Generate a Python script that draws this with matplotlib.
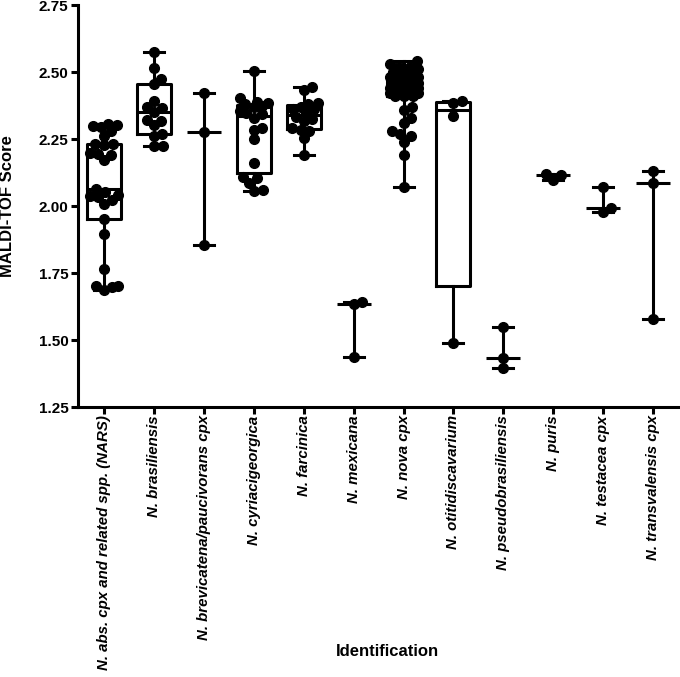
import matplotlib
matplotlib.use("Agg")
import matplotlib.pyplot as plt
import numpy as np

plt.rcParams["font.family"] = ["Liberation Sans", "DejaVu Sans"]
plt.rcParams["font.weight"] = "bold"

species = [
    "N. abs. cpx and related spp. (NARS)",
    "N. brasiliensis",
    "N. brevicatena/paucivorans cpx",
    "N. cyriacigeorgica",
    "N. farcinica",
    "N. mexicana",
    "N. nova cpx",
    "N. otitidiscavarium",
    "N. pseudobrasiliensis",
    "N. puris",
    "N. testacea cpx",
    "N. transvalensis cpx",
]

nars = [2.307, 2.304, 2.300, 2.294, 2.281, 2.263, 2.232, 2.232, 2.229, 2.197,
        2.195, 2.191, 2.172, 2.065, 2.053, 2.040, 2.036, 2.034, 2.021, 2.009,
        1.952, 1.896, 1.764, 1.701, 1.700, 1.699, 1.685]
brasiliensis = [2.576, 2.514, 2.474, 2.455, 2.392, 2.370, 2.364, 2.350, 2.322,
                2.318, 2.302, 2.267, 2.261, 2.225, 2.225]
brevicatena = [2.423, 2.276, 1.855]
cyriacigeorgica = [2.505, 2.402, 2.388, 2.383, 2.380, 2.375, 2.370, 2.354, 2.346,
                   2.342, 2.330, 2.292, 2.285, 2.251, 2.160, 2.109, 2.103, 2.085,
                   2.059, 2.057]
farcinica = [2.443, 2.434, 2.383, 2.380, 2.370, 2.363, 2.363, 2.348, 2.333, 2.323,
             2.317, 2.290, 2.285, 2.280, 2.254, 2.191]
mexicana = [1.640, 1.634, 1.436]
nova = [2.54, 2.53, 2.52, 2.52, 2.51, 2.50, 2.50, 2.49, 2.49, 2.48, 2.48, 2.48,
        2.47, 2.47, 2.47, 2.46, 2.46, 2.46, 2.46, 2.45, 2.45, 2.45, 2.45, 2.44,
        2.44, 2.44, 2.43, 2.43, 2.43, 2.42, 2.42, 2.42, 2.41, 2.41, 2.41, 2.37,
        2.36, 2.33, 2.31, 2.28, 2.27, 2.26, 2.24, 2.19, 2.07]
otitidiscavarium = [2.391, 2.383, 2.335, 1.489]
pseudobrasiliensis = [1.548, 1.434, 1.396]
puris = [2.119, 2.115, 2.098]
testacea = [2.070, 1.992, 1.977]
transvalensis = [2.132, 2.087, 1.580]

groups = [nars, brasiliensis, brevicatena, cyriacigeorgica, farcinica, mexicana,
          nova, otitidiscavarium, pseudobrasiliensis, puris, testacea, transvalensis]


def _stats(v):
    v = np.asarray(v)
    med = np.median(v)
    if len(v) >= 4:
        q1, q3 = np.percentile(v, [25, 75], method="weibull")
    else:
        # too few points for a box: median line plus range only
        q1 = q3 = med
    return dict(med=med, q1=q1, q3=q3, whislo=v.min(), whishi=v.max(), fliers=[])


def _swarm(vals, ppx, ppy, diam=8.6, maxoff=14.0):
    vals = np.asarray(vals)
    offs = np.zeros(len(vals))
    placed = []
    cands = [0.0]
    for k in np.arange(0.5, maxoff + 0.01, 0.5):
        cands += [k, -k]
    for i in np.argsort(vals):
        y = vals[i] * ppy
        best, best_gap = 0.0, -1.0
        for c in cands:
            gap = min((np.hypot(c - px, y - py) for px, py in placed), default=1e9)
            if gap >= diam:
                best = c
                break
            if gap > best_gap:
                best, best_gap = c, gap
        offs[i] = best
        placed.append((best, y))
    return offs / ppx


fig = plt.figure(figsize=(6.8, 6.77), dpi=100)
ax = fig.add_axes([0.1147, 0.3988, 0.884, 0.5938])

lw = 2.2
props = dict(color="black", linewidth=lw)
pos = np.arange(len(groups))
big = [i for i, g in enumerate(groups) if len(g) >= 4]
small = [i for i, g in enumerate(groups) if len(g) < 4]
for idx, showbox in ((big, True), (small, False)):
    ax.bxp([_stats(groups[i]) for i in idx], positions=pos[idx], widths=0.68,
           capwidths=0.4, showfliers=False, showbox=showbox, manage_ticks=False,
           boxprops=props, whiskerprops=props, capprops=props, medianprops=props)

for i, g in enumerate(groups):
    dx = _swarm(g, ppx=49.9, ppy=268.0)
    ax.plot(i + dx, g, "o", color="black", ms=7, mec="black", zorder=3,
            clip_on=False)

ax.set_xlim(-0.52, 11.52)
ax.set_ylim(1.25, 2.75)
ax.set_yticks(np.arange(1.25, 2.76, 0.25))
ax.set_yticklabels([f"{t:.2f}" for t in np.arange(1.25, 2.76, 0.25)],
                   fontsize=11, fontweight="bold")
ax.set_xticks(pos)
ax.set_xticklabels(species, rotation=90, fontsize=10.8, fontweight="bold",
                   fontstyle="italic")
for s in ("top", "right"):
    ax.spines[s].set_visible(False)
for s in ("left", "bottom"):
    ax.spines[s].set_linewidth(lw)
ax.tick_params(axis="both", width=lw, length=5)
ax.tick_params(axis="x", pad=1)
ax.tick_params(axis="y", pad=2)

ax.set_ylabel("MALDI-TOF Score", fontsize=12, fontweight="bold")
ax.yaxis.set_label_coords(-0.104, 0.5)
ax.set_xlabel("Identification", fontsize=12, fontweight="bold")
ax.xaxis.set_label_coords(0.515, -0.59)

fig.savefig("out.png", dpi=100)
